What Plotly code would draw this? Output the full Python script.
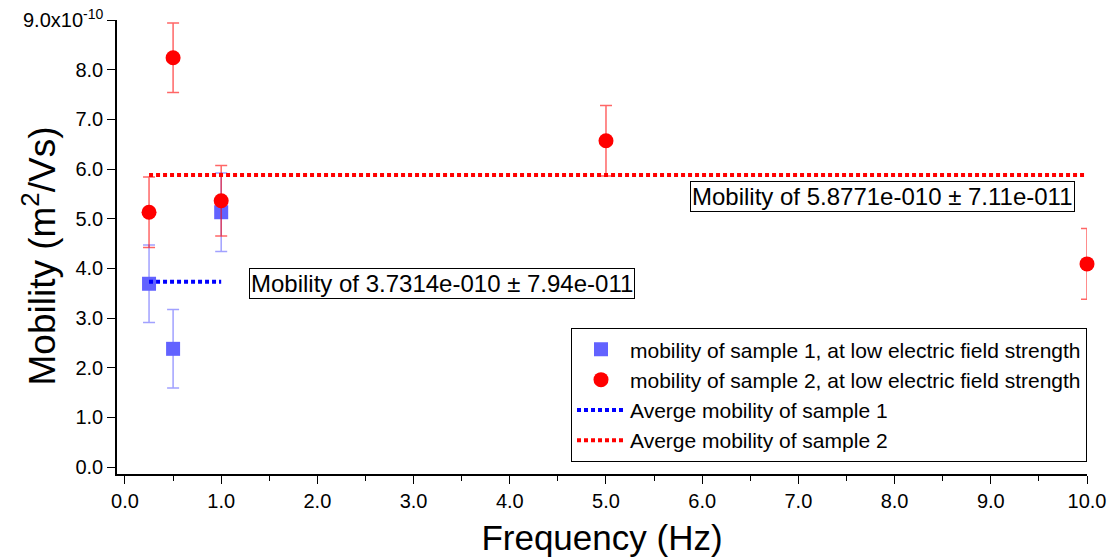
import plotly.graph_objects as go

# Mobility values in units of 1e-10 m^2/Vs
freq_s1 = [0.25, 0.5, 1.0]
mob_s1 = [3.69, 2.38, 5.13]
err_s1 = [0.78, 0.79, 0.79]

freq_s2 = [0.25, 0.5, 1.0, 5.0, 10.0]
mob_s2 = [5.13, 8.24, 5.36, 6.57, 4.09]
err_s2 = [0.71, 0.70, 0.71, 0.71, 0.71]

avg_s1_x = [0.25, 1.0]
avg_s1 = 3.7314
avg_s2_x = [0.25, 10.0]
avg_s2 = 5.8771

ytick_vals = [0, 1, 2, 3, 4, 5, 6, 7, 8, 9]
ytick_text = ["0.0", "1.0", "2.0", "3.0", "4.0", "5.0", "6.0", "7.0", "8.0", "9.0x10<sup>-10</sup>"]

FONT = "Liberation Sans, Arial, sans-serif"

fig = go.Figure()

fig.add_trace(go.Scatter(
    x=freq_s1, y=mob_s1, mode="markers",
    name="mobility of sample 1, at low electric field strength",
    marker=dict(symbol="square", size=14, color="#6262ff"),
    error_y=dict(type="data", array=err_s1, visible=True, color="rgba(98,98,255,0.6)", thickness=1.5, width=6),
    cliponaxis=False,
))
fig.add_trace(go.Scatter(
    x=freq_s2, y=mob_s2, mode="markers",
    name="mobility of sample 2, at low electric field strength",
    marker=dict(symbol="circle", size=15, color="#ff0000"),
    error_y=dict(type="data", array=err_s2, visible=True, color="rgba(255,0,0,0.6)", thickness=1.5, width=6),
    cliponaxis=False,
))
fig.add_trace(go.Scatter(
    x=avg_s1_x, y=[avg_s1] * len(avg_s1_x), mode="lines",
    name="Averge mobility of sample 1",
    line=dict(color="#0000ff", width=4, dash="4px,3px"),
))
fig.add_trace(go.Scatter(
    x=avg_s2_x, y=[avg_s2] * len(avg_s2_x), mode="lines",
    name="Averge mobility of sample 2",
    line=dict(color="#ff0000", width=4, dash="4px,3px"),
))

fig.add_annotation(x=7.87, y=5.45, xref="x", yref="y",
                   text="Mobility of 5.8771e-010 ± 7.11e-011", showarrow=False,
                   font=dict(size=24, color="black", family=FONT),
                   bordercolor="black", borderwidth=1, borderpad=1, bgcolor="white")
fig.add_annotation(x=3.30, y=3.70, xref="x", yref="y",
                   text="Mobility of 3.7314e-010 ± 7.94e-011", showarrow=False,
                   font=dict(size=24, color="black", family=FONT),
                   bordercolor="black", borderwidth=1, borderpad=1, bgcolor="white")
# y-axis title placed as a rotated annotation
fig.add_annotation(x=-0.08, y=0.48, xref="paper", yref="paper",
                   text="Mobility (m<sup>2</sup>/Vs)", textangle=-90, showarrow=False,
                   xanchor="center", yanchor="middle",
                   font=dict(size=37, color="black", family=FONT))

fig.update_layout(
    width=1110, height=557,
    margin=dict(l=117, r=23, t=20, b=83),
    paper_bgcolor="white", plot_bgcolor="white",
    font=dict(family=FONT, color="black", size=20),
    showlegend=True,
    legend=dict(x=1.0, y=0.026, xanchor="right", yanchor="bottom",
                bordercolor="black", borderwidth=1, bgcolor="white",
                font=dict(size=21, family=FONT), tracegroupgap=0, itemwidth=48),
)
fig.update_xaxes(
    range=[-0.083, 10.0], showgrid=False, zeroline=False, automargin=False,
    showline=True, linecolor="black", linewidth=1.5,
    ticks="outside", ticklen=8, tickwidth=1, tickcolor="black",
    dtick=1, tick0=0, tickformat=".1f",
    minor=dict(dtick=0.5, tick0=0, ticks="outside", ticklen=5, tickcolor="black"),
    title=dict(text="Frequency (Hz)", font=dict(size=35, family=FONT)),
)
fig.update_yaxes(
    range=[-0.14, 9.0], showgrid=False, zeroline=False, automargin=False,
    showline=True, linecolor="black", linewidth=1.5,
    ticks="outside", ticklen=8, tickwidth=1, tickcolor="black",
    tickvals=ytick_vals, ticktext=ytick_text,
)

fig.write_html("out.html")
